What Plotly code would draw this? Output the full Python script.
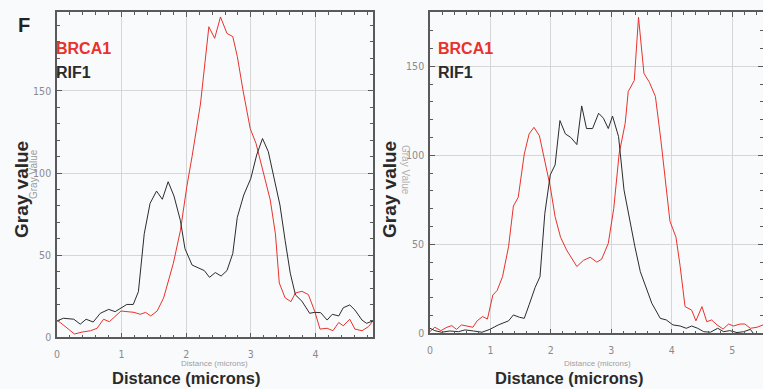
import plotly.graph_objects as go

W, H = 763, 389

# ---------- data ----------
left_brca1_x = [0, 0.05, 0.27, 0.39, 0.52, 0.62, 0.72, 0.81, 0.99, 1.08, 1.19, 1.29, 1.37, 1.45, 1.55,
                1.65, 1.80, 1.91, 2.01, 2.09, 2.22, 2.35, 2.44, 2.53, 2.63, 2.72, 2.79, 2.88, 2.99, 3.08,
                3.20, 3.30, 3.38, 3.44, 3.53, 3.62, 3.69, 3.79, 3.89, 3.99, 4.07, 4.18, 4.27, 4.36, 4.43,
                4.53, 4.61, 4.72, 4.82, 4.89]
left_brca1_y = [10.1, 9, 2, 3.2, 4, 5.5, 11, 9.5, 16, 15.6, 15.2, 14, 15.2, 13, 16,
                24, 45, 65, 92, 110, 142, 189, 182, 195, 185, 183, 171, 150, 127, 118,
                100, 83.6, 63, 33, 24, 21.7, 27, 28, 26, 15.6, 5, 5.5, 4, 9, 7,
                11, 5, 4, 6.5, 10]

left_rif1_x = [0, 0.10, 0.26, 0.36, 0.45, 0.56, 0.67, 0.80, 0.90, 0.99, 1.08, 1.18, 1.26, 1.35, 1.44,
               1.54, 1.63, 1.72, 1.81, 1.91, 1.98, 2.09, 2.19, 2.28, 2.36, 2.45, 2.54, 2.63, 2.72, 2.79,
               2.89, 3.00, 3.09, 3.18, 3.27, 3.38, 3.45, 3.53, 3.61, 3.69, 3.79, 3.91, 3.99, 4.08, 4.18,
               4.26, 4.36, 4.43, 4.53, 4.61, 4.72, 4.79, 4.89]
left_rif1_y = [10, 11.6, 11, 8, 11, 9.3, 14.6, 17, 15.6, 17.6, 20, 20, 27.8, 63, 81.5,
               89, 84, 94.7, 86, 71, 54, 44, 42, 40.6, 36.5, 39.4, 37.3, 40.6, 51, 73,
               86.6, 96.8, 111, 121, 113, 93.7, 80.5, 59, 39, 25.8, 22, 14.6, 15.2, 15, 10.5,
               14, 13, 18, 19.7, 16.6, 10.5, 8.5, 10]

right_brca1_x = [0, 0.08, 0.18, 0.28, 0.36, 0.44, 0.52, 0.62, 0.71, 0.78, 0.87, 0.95, 1.04, 1.11, 1.20,
                 1.30, 1.38, 1.46, 1.56, 1.64, 1.72, 1.81, 1.89, 1.99, 2.07, 2.16, 2.26, 2.43, 2.54, 2.65,
                 2.76, 2.84, 2.95, 3.04, 3.13, 3.23, 3.28, 3.38, 3.45, 3.54, 3.63, 3.73, 3.82, 3.91, 3.97,
                 4.07, 4.14, 4.22, 4.33, 4.40, 4.50, 4.58, 4.66, 4.75, 4.85, 4.94, 5.02, 5.13, 5.21, 5.30,
                 5.41, 5.51]
right_brca1_y = [1, 3.4, 1.5, 3.4, 4.3, 2.2, 4.7, 4.1, 3.4, 7, 9.4, 8, 21.5, 24, 31.8,
                 48.7, 71.5, 76.4, 100.7, 112, 115.7, 111, 99, 82.4, 65.5, 54, 46.8, 37.5, 41, 42.7,
                 40, 41.6, 50.5, 70, 101, 118, 135.8, 142, 177.5, 146, 141, 133, 108.6, 79.6, 63,
                 54, 37.5, 15, 13, 7, 15, 6.5, 7.5, 4.7, 2.4, 5.2, 4.1, 5.2, 5.2, 2.8,
                 3.4, 4.7]

right_rif1_x = [0, 0.08, 0.19, 0.33, 0.47, 0.58, 0.72, 0.86, 0.99, 1.13, 1.30, 1.38, 1.48, 1.56, 1.64,
                1.74, 1.82, 1.90, 1.99, 2.07, 2.15, 2.24, 2.33, 2.43, 2.51, 2.59, 2.69, 2.79, 2.87, 2.95,
                3.02, 3.12, 3.21, 3.30, 3.39, 3.48, 3.59, 3.67, 3.81, 3.91, 4.02, 4.14, 4.24, 4.33, 4.43,
                4.53, 4.64, 4.76, 4.86, 4.96, 5.08, 5.19, 5.30, 5.35]
right_rif1_y = [2.8, 1.5, 0.6, 1.3, 0.9, 1.9, 1.3, 0.6, 2.2, 4.7, 7, 10.3, 9, 8.4, 16,
                25.8, 31.8, 67.4, 89, 94.6, 119.5, 112, 110, 106, 127.7, 115, 115, 123.6, 120.8, 115,
                122, 110.5, 80.5, 63.7, 48.7, 34.6, 24.3, 16.9, 8.4, 7.5, 4.7, 4.1, 2.8, 4.1, 2.8,
                0.9, 0.6, 2.8, 0.9, 1.5, 0.4, 0.9, 2.2, 0]

x_ticks_left = [0, 1, 2, 3, 4]
x_ticks_right = [0, 1, 2, 3, 4, 5]
y_ticks = [0, 50, 100, 150]

series_names = ["BRCA1", "RIF1"]
RED = "#e8322b"
DARK = "#2b2b2b"
BG = "#f9fafc"

# ---------- figure ----------
fig = go.Figure()
fig.add_trace(go.Scatter(x=left_brca1_x, y=left_brca1_y, mode="lines", line=dict(color=RED, width=1),
                         xaxis="x", yaxis="y", name=series_names[0]))
fig.add_trace(go.Scatter(x=left_rif1_x, y=left_rif1_y, mode="lines", line=dict(color=DARK, width=1),
                         xaxis="x", yaxis="y", name=series_names[1]))
fig.add_trace(go.Scatter(x=right_brca1_x, y=right_brca1_y, mode="lines", line=dict(color=RED, width=1),
                         xaxis="x2", yaxis="y2", name=series_names[0]))
fig.add_trace(go.Scatter(x=right_rif1_x, y=right_rif1_y, mode="lines", line=dict(color=DARK, width=1),
                         xaxis="x2", yaxis="y2", name=series_names[1]))

tickfont = dict(family="DejaVu Sans Condensed, Liberation Sans Narrow, Arial", size=10.5, color="#8a8a8a")
axis_common = dict(showline=True, linecolor="#5a5a5a", linewidth=1.5, mirror="allticks",
                   ticks="inside", ticklen=5, tickcolor="#5a5a5a", tickwidth=1,
                   showgrid=True, gridcolor="#d6d6d6", gridwidth=1, zeroline=False,
                   tickfont=tickfont, automargin=False)


def px_x(p):
    return min(1.0, max(0.0, p / W))


def px_y(p):
    return min(1.0, max(0.0, 1 - p / H))


fig.update_layout(
    width=W, height=H,
    margin=dict(l=0, r=0, t=0, b=0),
    paper_bgcolor=BG, plot_bgcolor=BG,
    showlegend=False,
    xaxis=dict(domain=[px_x(57), px_x(373)], range=[0, 4.89], tickvals=x_ticks_left,
               anchor="y", ticklabelstandoff=6,
               minor=dict(dtick=0.2, ticks="inside", ticklen=3, tickcolor="#5a5a5a", showgrid=False),
               **axis_common),
    yaxis=dict(domain=[px_y(337.3), px_y(12)], range=[0, 198], tickvals=y_ticks,
               anchor="x", ticklabelstandoff=2,
               minor=dict(dtick=10, ticks="inside", ticklen=3, tickcolor="#5a5a5a", showgrid=False),
               **axis_common),
    xaxis2=dict(domain=[px_x(430), px_x(763.5)], range=[0, 5.51], tickvals=x_ticks_right,
                anchor="y2", ticklabelstandoff=6,
                minor=dict(dtick=0.2, ticks="inside", ticklen=3, tickcolor="#5a5a5a", showgrid=False),
                **axis_common),
    yaxis2=dict(domain=[px_y(333.3), px_y(12.3)], range=[0, 180.3], tickvals=y_ticks,
                anchor="x2", ticklabelstandoff=2,
                minor=dict(dtick=10, ticks="inside", ticklen=3, tickcolor="#5a5a5a", showgrid=False),
                **axis_common),
)

bold = "Liberation Sans, Arial, sans-serif"
ann = []
# panel letter
ann.append(dict(x=px_x(16), y=px_y(25), text="<b>F</b>", font=dict(family=bold, size=20, color="#222"),
                xanchor="left", yanchor="middle"))
for x0 in (54, 436):
    ann.append(dict(x=px_x(x0), y=px_y(48), text="<b>" + series_names[0] + "</b>",
                    font=dict(family=bold, size=16, color=RED), xanchor="left", yanchor="middle"))
    ann.append(dict(x=px_x(x0), y=px_y(72), text="<b>" + series_names[1] + "</b>",
                    font=dict(family=bold, size=16, color=DARK), xanchor="left", yanchor="middle"))
# faint original labels
ann.append(dict(x=px_x(33), y=px_y(174), text="Gray Value", textangle=-90,
                font=dict(family="Arial, Liberation Sans", size=10, color="#9a9a9a"),
                xanchor="center", yanchor="middle"))
ann.append(dict(x=px_x(406), y=px_y(170), text="Gray Value", textangle=90,
                font=dict(family="Arial, Liberation Sans", size=10, color="#b0b0b0"),
                xanchor="center", yanchor="middle"))
for cx in (214, 597):
    ann.append(dict(x=px_x(cx), y=px_y(363), text="Distance (microns)",
                    font=dict(family="Arial, Liberation Sans", size=8, color="#a0a0a0"),
                    xanchor="center", yanchor="middle"))
# big axis titles
for cx in (186, 569):
    ann.append(dict(x=px_x(cx), y=px_y(378), text="<b>Distance (microns)</b>",
                    font=dict(family=bold, size=16.5, color="#2a2a2a"),
                    xanchor="center", yanchor="middle"))
for cx in (22, 390):
    ann.append(dict(x=px_x(cx), y=px_y(190), text="<b>Gray value</b>", textangle=-90,
                    font=dict(family=bold, size=19, color="#2a2a2a"),
                    xanchor="center", yanchor="middle"))
for a in ann:
    a.update(xref="paper", yref="paper", showarrow=False)
fig.update_layout(annotations=ann)

fig.write_html("out.html", config={"displayModeBar": False},
               post_script="document.body.style.margin='0px';document.body.style.overflow='hidden';")
